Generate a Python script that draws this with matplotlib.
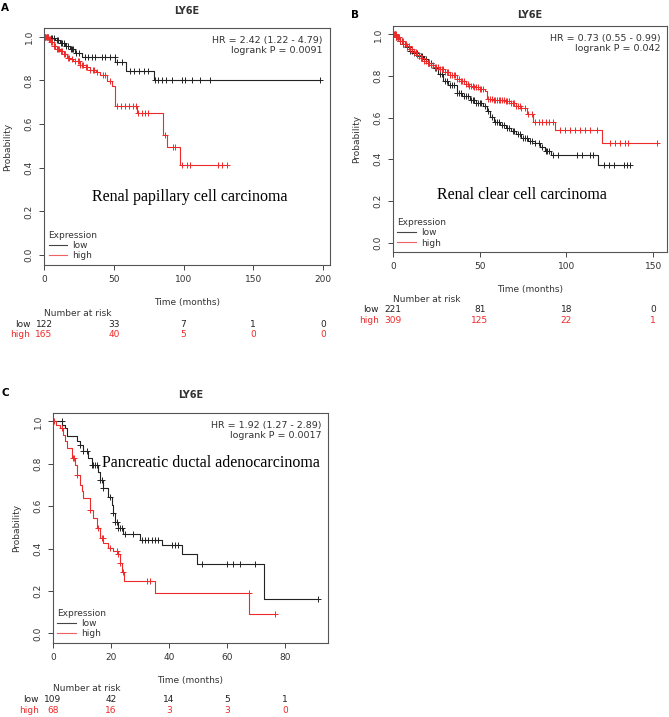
import numpy as np
import matplotlib
matplotlib.use('Agg')
import matplotlib.pyplot as plt

# ---- panel A: renal papillary ----
A_low_t=[0,4,8,11.5,15,18.5,22,27,51,59,78.5]
A_low_s=[1.0,0.995,0.985,0.97,0.957,0.942,0.927,0.908,0.884,0.845,0.803]
A_low_end=198
A_low_cens=[1,2,3,5,6,7,9,10,12,13,14,16,17,19,20,21,23,25,29.4,31.8,34.2,36.6,41.3,43.7,47.3,50.9,52.1,55.7,61.6,64.8,68.1,71.5,74.8,
            79.6,82,84.4,87.5,91.5,98.7,101,105.9,111.8,119,197.5]
A_high_t=[0,3,5,7,9,11.5,14,16.5,18.6,21,25.8,30,33,37,40,45,48.5,51,66.4,85.5,88,97.5]
A_high_s=[1.0,0.99,0.975,0.96,0.945,0.934,0.92,0.905,0.897,0.887,0.873,0.86,0.85,0.84,0.827,0.797,0.774,0.683,0.653,0.55,0.497,0.413]
A_high_end=132
A_high_cens=[1,1.5,2,2.5,3.5,4,5,6,7,8,9,10,11,12,13,14,15,17,18,20,22,24,25,26,27,28,30,31,33,35,36,38,42,44,47,
             52,55,57.9,61,64,66,67.6,70,72.4,74.8,86.8,92.7,94,98.7,102.3,104.7,125,127.4,131]
A_ticks=[0,50,100,150,200]
A_risk_low=[122,33,7,1,0]
A_risk_high=[165,40,5,0,0]

# ---- panel B: renal clear cell ----
B_low_t=[0,2,4,6,8,10,12,15,17.5,20,23.3,26,29,32,36.7,40,44.4,48,52,54,56,58,62,65,68,71,74,78,81.8,85,87.5,91.4,118.5]
B_low_s=[1.0,0.985,0.97,0.952,0.937,0.922,0.91,0.895,0.881,0.862,0.84,0.81,0.778,0.755,0.72,0.705,0.685,0.67,0.656,0.63,0.605,0.578,
         0.565,0.552,0.535,0.52,0.504,0.49,0.478,0.46,0.44,0.419,0.373]
B_low_end=136.5
B_low_cens=[1,2,3,4,5,6,7,8,9,10,11,12,13,14,15,16,17,18,19,20,21,22,24,25,27,28,30,31,33,34,35,37,38,39,41,42,43,45,46,47,48,49,
            50,51,53,55,57,59,60,61,63,64,66,67,69,70,72,73,75,76,77,79,80,82,84,86,88,89,90,92,95.3,105.9,108.8,113.7,115.6,
            121.4,124.3,127.2,133,134.9,136.5]
B_high_t=[0,2,4,6,8,10,12,14,16,18,20,22,24,27,30,33,36.7,39,42,44,46.3,50,53,54,58,64.6,68,71,74,77,80.6,93.7,120.4]
B_high_s=[1.0,0.985,0.97,0.955,0.944,0.93,0.915,0.9,0.885,0.873,0.862,0.852,0.845,0.833,0.82,0.805,0.785,0.775,0.762,0.752,0.745,
          0.737,0.73,0.69,0.686,0.682,0.672,0.658,0.645,0.62,0.579,0.539,0.48]
B_high_end=152
B_high_cens=[0.5,1,1.5,2,2.5,3,3.5,4,5,5.5,6,7,7.5,8,9,10,11,12,13,14,15,16,17,18,19,20,21,22,23,24,25,26,27,28,29,30,31,32,33,34,
             35,36,37,38,39,40,41,42,43,44,45,46,47,48,49,50,51,52,55,56,57,58,59,60,61,62,63,64,65,66,67,68,69,70,71,72,73,74,
             76,78,80,82,84,86,88,90,92,96.3,99.2,102,105,107.9,110.8,113.7,117.6,125.2,128.1,131,133.9,135.8,152]
B_ticks=[0,50,100,150]
B_risk_low=[221,81,18,0]
B_risk_high=[309,125,22,1]

# ---- panel C: pancreatic ductal ----
C_low_t=[0,3.2,4.1,4.7,8.4,9.3,10.5,12.2,13.3,15.6,16.2,17.4,19.1,20.2,20.8,21.4,22.5,24.2,30,37.5,44.4,49.8,72.6]
C_low_s=[1.0,0.985,0.97,0.93,0.91,0.891,0.859,0.828,0.796,0.764,0.725,0.685,0.646,0.606,0.566,0.527,0.496,0.467,0.441,0.417,0.376,0.33,0.164]
C_low_end=91.5
C_low_cens=[3,9.3,10.5,11.6,13.3,13.9,14.5,15.1,16.2,16.8,17.4,19.6,20.8,21.4,22,22.5,23.1,23.7,24.8,27.7,30.6,31.7,32.9,34,35.2,36.3,
            41,42.1,43.2,51.3,59.9,62.2,64.5,69.7,91.5]
C_high_t=[0,1,2.4,3.6,4.2,4.7,6.4,7.6,8.2,9.3,10,10.5,12.8,13.9,15.1,16.2,17.4,19.1,20.8,22.5,23.1,23.7,24.4,35.2,67.7]
C_high_s=[1.0,0.985,0.97,0.938,0.906,0.875,0.828,0.796,0.749,0.701,0.67,0.638,0.583,0.543,0.496,0.45,0.426,0.403,0.387,0.374,0.332,
          0.29,0.247,0.19,0.093]
C_high_end=76.6
C_high_cens=[0.3,3,7,7.3,8.2,12.8,15.6,16.8,17.2,19.6,22,22.5,23.1,24,32.3,33.4,67.4,76.6]
C_ticks=[0,20,40,60,80]
C_risk_low=[109,42,14,5,1]
C_risk_high=[68,16,3,3,0]

BLACK='#222222';RED='#ee2a2a';TXT='#333333'

def km(ax,t,s,end,cens,color):
    t=np.asarray(t,float);s=np.asarray(s,float)
    ax.step(np.append(t,end),np.append(s,s[-1]),where='post',color=color,lw=0.8)
    c=np.asarray(cens,float)
    cy=s[np.clip(np.searchsorted(t,c,side='right')-1,0,len(s)-1)]
    ax.plot(c,cy,ls='none',marker='+',ms=4.5,mew=0.7,color=color)

def panel(fig,rect,lowd,highd,xlim,ticks,rl,rh,hr,p,name,name_xy,title_pad,risk_off):
    ax=fig.add_axes(rect)
    km(ax,*lowd,BLACK);km(ax,*highd,RED)
    ax.set_xlim(*xlim);ax.set_ylim(-0.045,1.04)
    ax.set_xticks(ticks);ax.set_yticks([0,0.2,0.4,0.6,0.8,1.0])
    ax.set_yticklabels(['0.0','0.2','0.4','0.6','0.8','1.0'],rotation=90,va='center')
    ax.tick_params(labelsize=6.5,labelcolor=TXT,color='#444444',length=3.5,width=0.7,pad=4)
    for sp in ax.spines.values():sp.set_color('#555555');sp.set_linewidth(0.8)
    ax.set_xlabel('Time (months)',fontsize=6.5,color=TXT,labelpad=10)
    ax.set_ylabel('Probability',fontsize=6.5,color=TXT,labelpad=9)
    ax.set_title('LY6E',fontsize=7,fontweight='bold',color=TXT,pad=title_pad)
    ax.text(0.975,0.965,f'HR = {hr}\nlogrank P = {p}',transform=ax.transAxes,ha='right',va='top',fontsize=6.8,color=TXT,linespacing=1.15)
    ax.text(name_xy[0],name_xy[1],name,transform=ax.transAxes,ha='center',va='center',fontsize=11.5,family='Liberation Serif')
    h1,=ax.plot([],[],color='#444444',lw=0.8);h2,=ax.plot([],[],color='#f06060',lw=0.8)
    lg=ax.legend([h1,h2],['low','high'],title='Expression',loc='lower left',frameon=False,fontsize=6.5,title_fontsize=6.5,
                 alignment='left',handlelength=2.0,handletextpad=0.6,labelspacing=0.15,borderpad=0.2,borderaxespad=0.3)
    for tx in lg.get_texts():tx.set_color(TXT)
    lg.get_title().set_color(TXT)
    o1,o2,o3=risk_off
    ax.annotate('Number at risk',xy=(0,0),xycoords='axes fraction',xytext=(0,-o1),textcoords='offset points',
                ha='left',va='center',fontsize=6.5,color=TXT)
    ax.annotate('low',xy=(0,0),xycoords='axes fraction',xytext=(-10,-o2),textcoords='offset points',ha='right',va='center',fontsize=6.5,color=BLACK)
    ax.annotate('high',xy=(0,0),xycoords='axes fraction',xytext=(-10,-o3),textcoords='offset points',ha='right',va='center',fontsize=6.5,color=RED)
    for x,a,b in zip(ticks,rl,rh):
        ax.annotate(str(a),xy=(x,0),xycoords=('data','axes fraction'),xytext=(0,-o2),textcoords='offset points',ha='center',va='center',fontsize=6.5,color=BLACK)
        ax.annotate(str(b),xy=(x,0),xycoords=('data','axes fraction'),xytext=(0,-o3),textcoords='offset points',ha='center',va='center',fontsize=6.5,color=RED)
    return ax

fig=plt.figure(figsize=(6.69,7.17),dpi=100)
panel(fig,[0.0658,0.6304,0.4275,0.3305],(A_low_t,A_low_s,A_low_end,A_low_cens),(A_high_t,A_high_s,A_high_end,A_high_cens),
      (0,205),A_ticks,A_risk_low,A_risk_high,'2.42 (1.22 - 4.79)','0.0091','Renal papillary cell carcinoma',(0.51,0.287),10,(35,42.5,50))
panel(fig,[0.5874,0.6485,0.4096,0.3152],(B_low_t,B_low_s,B_low_end,B_low_cens),(B_high_t,B_high_s,B_high_end,B_high_cens),
      (0,158),B_ticks,B_risk_low,B_risk_high,'0.73 (0.55 - 0.99)','0.042','Renal clear cell carcinoma',(0.471,0.252),6,(34,41.5,49))
panel(fig,[0.0792,0.1032,0.4111,0.3208],(C_low_t,C_low_s,C_low_end,C_low_cens),(C_high_t,C_high_s,C_high_end,C_high_cens),
      (0,94.8),C_ticks,C_risk_low,C_risk_high,'1.92 (1.27 - 2.89)','0.0017','Pancreatic ductal adenocarcinoma',(0.576,0.783),11,(33,41,48.5))
for lt,x,y in [('A',5,8),('B',355,15),('C',5,393)]:
    fig.text(x/669,1-y/717,lt,fontsize=7.5,fontweight='bold',ha='center',va='center')
fig.savefig('out.png',dpi=100)
